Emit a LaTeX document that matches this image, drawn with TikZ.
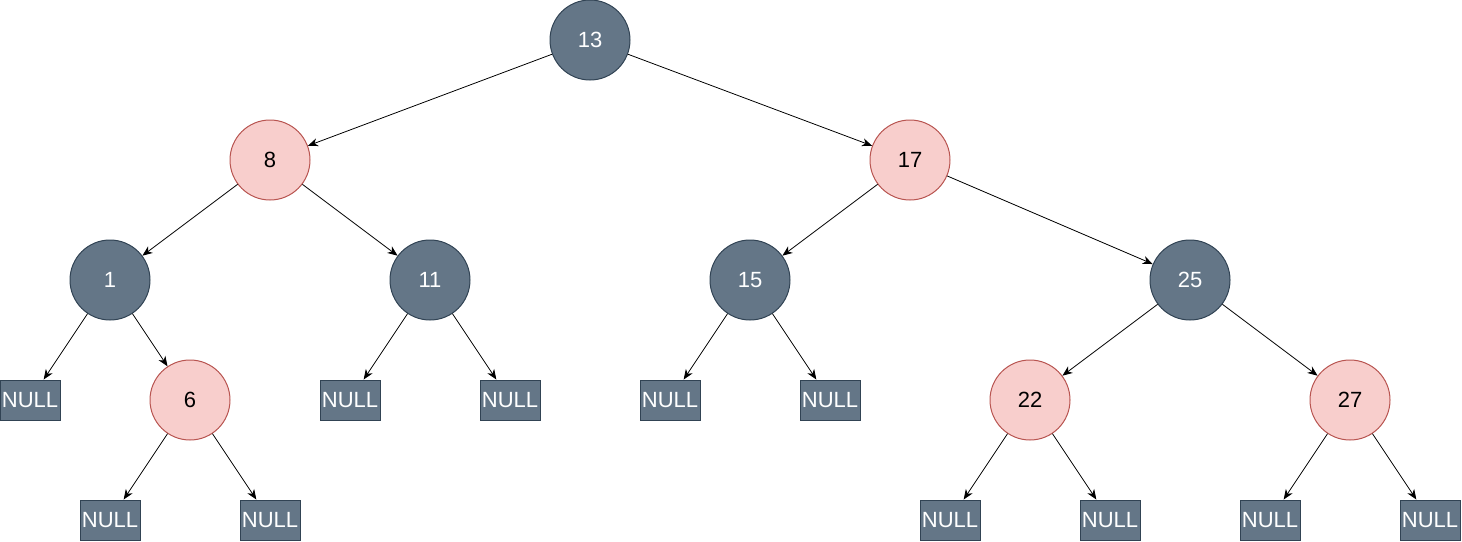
\documentclass[tikz,border=0pt]{standalone}
\usepackage{fontspec}
\setmainfont{Liberation Sans}
\usetikzlibrary{arrows.meta}
\definecolor{blkfill}{HTML}{647687}
\definecolor{blkline}{HTML}{314354}
\definecolor{redfill}{HTML}{F8CECC}
\definecolor{redline}{HTML}{B85450}
\begin{document}
\begin{tikzpicture}[x=1pt,y=-1pt,line width=1pt,
  every node/.style={font=\fontsize{22}{26}\selectfont,inner sep=0pt},
  blknode/.style={circle,draw=blkline,fill=blkfill,text=white,minimum size=80pt},
  rednode/.style={circle,draw=redline,fill=redfill,text=black,minimum size=80pt},
  nullbox/.style={draw=blkline,fill=blkfill,text=white,minimum width=60pt,minimum height=40pt},
  link/.style={-{Stealth[length=10pt,width=8pt,inset=3pt]},line width=0.8pt}]
\useasboundingbox (0,0) rectangle (1462,541);
% tree nodes
\node[blknode] (n13) at (590,40) {13};
\node[rednode] (n8)  at (270,160) {8};
\node[rednode] (n17) at (910,160) {17};
\node[blknode] (n1)  at (110,280) {1};
\node[blknode] (n11) at (430,280) {11};
\node[blknode] (n15) at (750,280) {15};
\node[blknode] (n25) at (1190,280) {25};
\node[rednode] (n6)  at (190,400) {6};
\node[rednode] (n22) at (1030,400) {22};
\node[rednode] (n27) at (1350,400) {27};
% leaves
\node[nullbox] (null1a)  at (30,400)   {NULL};
\node[nullbox] (null11a) at (350,400)  {NULL};
\node[nullbox] (null11b) at (510,400)  {NULL};
\node[nullbox] (null15a) at (670,400)  {NULL};
\node[nullbox] (null15b) at (830,400)  {NULL};
\node[nullbox] (null6a)  at (110,520)  {NULL};
\node[nullbox] (null6b)  at (270,520)  {NULL};
\node[nullbox] (null22a) at (950,520)  {NULL};
\node[nullbox] (null22b) at (1110,520) {NULL};
\node[nullbox] (null27a) at (1270,520) {NULL};
\node[nullbox] (null27b) at (1430,520) {NULL};

\foreach \a/\b in {n13/n8,n13/n17,n8/n1,n8/n11,n17/n15,n17/n25,
                   n1/null1a,n1/n6,n11/null11a,n11/null11b,n15/null15a,n15/null15b,
                   n25/n22,n25/n27,n6/null6a,n6/null6b,n22/null22a,n22/null22b,
                   n27/null27a,n27/null27b}
  \draw[link] (\a) -- (\b);
\end{tikzpicture}
\end{document}
